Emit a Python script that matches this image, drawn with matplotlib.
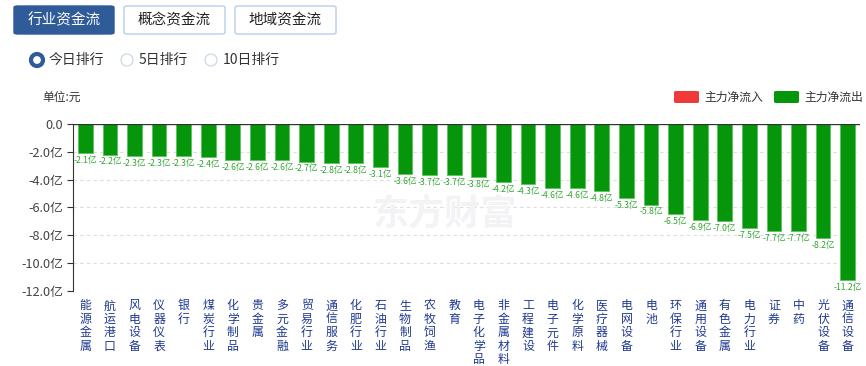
import matplotlib.pyplot as plt
from matplotlib.patches import FancyBboxPatch, Ellipse
import numpy as np

plt.rcParams['font.family'] = ['Noto Sans CJK SC', 'DejaVu Sans']

# 行业资金流 今日排行 (单位: 亿)
industries = ["能源金属", "航运港口", "风电设备", "仪器仪表", "银行", "煤炭行业", "化学制品", "贵金属",
              "多元金融", "贸易行业", "通信服务", "化肥行业", "石油行业", "生物制品", "农牧饲渔", "教育",
              "电子化学品", "非金属材料", "工程建设", "电子元件", "化学原料", "医疗器械", "电网设备", "电池",
              "环保行业", "通用设备", "有色金属", "电力行业", "证券", "中药", "光伏设备", "通信设备"]
net_flow = [-2.1, -2.2, -2.3, -2.3, -2.3, -2.4, -2.6, -2.6,
            -2.6, -2.7, -2.8, -2.8, -3.1, -3.6, -3.7, -3.7,
            -3.8, -4.2, -4.3, -4.6, -4.6, -4.8, -5.3, -5.8,
            -6.5, -6.9, -7.0, -7.5, -7.7, -7.7, -8.2, -11.2]
y_ticks = [0, -2, -4, -6, -8, -10, -12]

W, H = 866, 366
fig = plt.figure(figsize=(W / 100, H / 100), dpi=100)


def px(x, y):
    # 像素坐标 -> figure 坐标
    return x / W, 1 - y / H


ax = fig.add_axes([73 / W, 1 - 291 / H, (860 - 73) / W, (291 - 124) / H])

green = '#05960c'
x = np.arange(len(industries))
ax.bar(x, net_flow, width=0.6, color=green, edgecolor='#5cc25c', linewidth=0.6, zorder=3)

for xi, v in zip(x, net_flow):
    ax.annotate(f"{v:.1f}亿", (xi, v), xytext=(0, -2), textcoords='offset points',
                ha='center', va='top', fontsize=6.2, color='#2ea62e', zorder=4)

ax.set_xlim(-0.5, len(industries) - 0.5)
ax.set_ylim(-12, 0)
ax.set_yticks(y_ticks)
ax.set_yticklabels(["0.0"] + [f"{t:.1f}亿" for t in y_ticks[1:]], fontsize=9.2, color='#444444')
for t in y_ticks[1:]:
    ax.axhline(t, color='#dddddd', linestyle=(0, (3, 3)), linewidth=0.8, zorder=1)
ax.axhline(0, color='#333333', linewidth=1.0, zorder=5)

ax.set_xticks(x)
ax.set_xticklabels(["\n".join(name) for name in industries], fontsize=8.6, color='#1f3a93',
                   va='top', linespacing=1.05)
ax.tick_params(axis='x', length=0, pad=6)
ax.tick_params(axis='y', length=4, color='#333333', pad=3)

for s in ['top', 'right', 'bottom']:
    ax.spines[s].set_visible(False)
ax.spines['left'].set_color('#333333')

# 水印
fig.text(*px(445, 214), "东方财富", fontsize=26, color='#f3f3f5', ha='center', va='center',
         fontweight='bold', zorder=0)

# 顶部按钮
buttons = [("行业资金流", 14, 114, True), ("概念资金流", 124, 225, False), ("地域资金流", 235, 336, False)]
for label, x0, x1, active in buttons:
    bx, by = px(x0, 34)
    bw, bh = (x1 - x0) / W, 28 / H
    fig.patches.append(FancyBboxPatch((bx, by), bw, bh, boxstyle="round,pad=0,rounding_size=0.004",
                                      transform=fig.transFigure,
                                      facecolor='#2f5b99' if active else 'white',
                                      edgecolor='#2f5b99' if active else '#b8cfe8', linewidth=1))
    fig.text(bx + bw / 2, by + bh / 2, label, fontsize=10.5, ha='center', va='center',
             color='white' if active else '#222222')

# 单选
radios = [("今日排行", 37, True), ("5日排行", 127, False), ("10日排行", 211, False)]
for label, cx, on in radios:
    c = px(cx, 60)
    fig.patches.append(Ellipse(c, 12 / W, 12 / H, transform=fig.transFigure, facecolor='white',
                               edgecolor='#2f5b99' if on else '#c5d5e8', linewidth=3 if on else 0.8))
    fig.text(c[0] + 12 / W, c[1], label, fontsize=10, ha='left', va='center', color='#333333')

fig.text(*px(42, 97), "单位:元", fontsize=8.5, ha='left', va='center', color='#333333')

# 图例
legend_items = [("主力净流入", 674, '#f03a3a'), ("主力净流出", 774, green)]
for label, lx, col in legend_items:
    rx, ry = px(lx, 103)
    fig.patches.append(FancyBboxPatch((rx, ry), 25 / W, 12 / H, boxstyle="round,pad=0,rounding_size=0.003",
                                      transform=fig.transFigure, facecolor=col, edgecolor='none'))
    fig.text(*px(lx + 30, 97), label, fontsize=8.5, ha='left', va='center', color='#333333')

fig.savefig("out.png", dpi=100)
